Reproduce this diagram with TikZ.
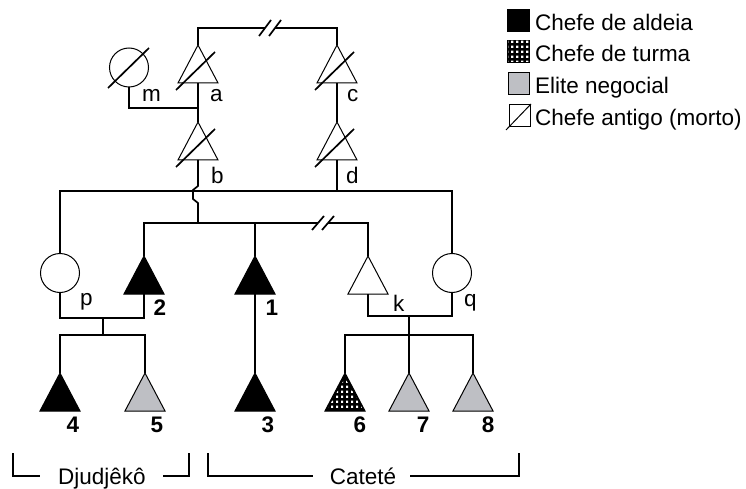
\documentclass[tikz,border=0pt]{standalone}
\usepackage{fontspec}
\setmainfont{Liberation Sans}
\usetikzlibrary{patterns.meta,calc}
\definecolor{elite}{RGB}{190,191,196}
\tikzdeclarepattern{
  name=chk,
  type=uncolored,
  bounding box={(0pt,0pt) and (5pt,5pt)},
  tile size={(5pt,5pt)},
  code={\fill (1.2pt,1.2pt) rectangle (3.8pt,3.8pt);}
}
\tikzset{
  conn/.style={line width=1.7pt},
  outl/.style={line width=1pt},
  brk/.style={line width=1.3pt},
  lbl/.style={inner sep=0pt, anchor=base west},
  num/.style={inner sep=0pt, anchor=base, font=\fontsize{22.5}{26}\selectfont\bfseries},
  tri/.pic={
    \filldraw[outl, fill=#1] (0,0) -- (20,38) -- (-20,38) -- cycle;
    \coordinate (-top) at (0,0); \coordinate (-bot) at (0,38);},
  chktri/.pic={
    \fill[black] (0,0) -- (20,38) -- (-20,38) -- cycle;
    \fill[pattern=chk, pattern color=white] (0,5) -- (17,35) -- (-17,35) -- cycle;
    \draw[outl] (0,0) -- (20,38) -- (-20,38) -- cycle;
    \coordinate (-top) at (0,0); \coordinate (-bot) at (0,38);},
  deadtri/.pic={
    \draw[outl] (0,0) -- (20,38) -- (-20,38) -- cycle;
    \draw[conn] (-22,45) -- (17,7);
    \coordinate (-top) at (0,0); \coordinate (-bot) at (0,38);},
  circ/.pic={
    \draw[outl] (0,19.5) circle (19.5pt);
    \coordinate (-top) at (0,0); \coordinate (-bot) at (0,39);},
  deadcirc/.pic={
    \draw[outl] (0,19.5) circle (19.5pt);
    \draw[conn] (-21,40) -- (20,0);
    \coordinate (-top) at (0,0); \coordinate (-bot) at (0,39);},
}
\begin{document}
\begin{tikzpicture}[x=1pt,y=-1pt,font=\fontsize{22.5}{26}\selectfont]
\useasboundingbox (0,0) rectangle (746,489);

% persons
\pic (m) at (129,48) {deadcirc};
\pic (a) at (198,45) {deadtri};
\pic (c) at (337,45) {deadtri};
\pic (b) at (198,122) {deadtri};
\pic (d) at (337,122) {deadtri};
\pic (p) at (60,253.5) {circ};
\pic (q) at (452,253.5) {circ};
\pic (t2) at (144,256) {tri=black};
\pic (t1) at (255,256) {tri=black};
\pic (k) at (368,256) {tri=white};
\pic (t4) at (60,373) {tri=black};
\pic (t5) at (145,373) {tri=elite};
\pic (t3) at (255,373) {tri=black};
\pic (t6) at (345,373) {chktri};
\pic (t7) at (409,373) {tri=elite};
\pic (t8) at (473,373) {tri=elite};

% helper coordinates
\coordinate (brk1) at (265,28);
\coordinate (brk2) at (275,28);
\coordinate (mj) at (198,108);
\coordinate (s1) at (60,191);
\coordinate (s2) at (452,191);
\coordinate (brk3) at (318,223);
\coordinate (brk4) at (328,223);
\coordinate (mp) at (103,318);
\coordinate (mk) at (409,316);

% a -- c (brothers, broken line)
\draw[conn] (a-top) |- (brk1);
\draw[conn] (brk2) -| (c-top);
\draw[conn] ($(brk1)+(-6,8)$) -- ++(12,-16);
\draw[conn] ($(brk2)+(-6,8)$) -- ++(12,-16);
% m -- a marriage, a -> b
\draw[conn] (m-bot) |- (mj);
\draw[conn] (a-bot) -- (b-top);
\draw[conn] (c-bot) -- (d-top);
% d children line
\draw[conn] (p-top) -- (s1) -- (s2) -- (q-top);
\draw[conn] (d-bot) -- (d-bot |- s1);
% b children line with hop
\draw[conn] (b-bot) -- ++(0,26) -- ++(-5,4) -- ++(0,9) -- ++(5,4) -- (b-bot |- brk3);
\draw[conn] (t2-top) |- (brk3);
\draw[conn] (brk4) -| (k-top);
\draw[conn] (t1-top) -- (t1-top |- brk3);
\draw[conn] ($(brk3)+(-6,7)$) -- ++(12,-14);
\draw[conn] ($(brk4)+(-6,7)$) -- ++(12,-14);
% p -- 2 marriage and children
\draw[conn] (p-bot) |- (mp) -| (t2-bot);
\draw[conn] (mp) -- ++(0,17);
\draw[conn] (t4-top) -- ++(0,-38) -| (t5-top);
% 1 -> 3
\draw[conn] (t1-bot) -- (t3-top);
% k -- q marriage and children
\draw[conn] (k-bot) |- (mk) -| (q-bot);
\draw[conn] (mk) -- (t7-top);
\draw[conn] (t6-top) -- ++(0,-38) -| (t8-top);

% labels
\node[lbl] (lm) at (142,102) {m};
\node[lbl] (la) at (210,102) {a};
\node[lbl] (lc) at (347,102) {c};
\node[lbl] (lb) at (211,183) {b};
\node[lbl] (ld) at (346,183) {d};
\node[lbl] (lp) at (80,305) {p};
\node[lbl] (lk) at (393,311) {k};
\node[lbl] (lq) at (464,306) {q};
\node[num] (n2) at (160,315) {2};
\node[num] (n1) at (272,315) {1};
\node[num] (n4) at (73,432) {4};
\node[num] (n5) at (157,432) {5};
\node[num] (n3) at (268,432) {3};
\node[num] (n6) at (360,432) {6};
\node[num] (n7) at (423,432) {7};
\node[num] (n8) at (488,432) {8};

% brackets
\node[inner sep=0pt, anchor=base] (dj) at (102,484) {Djudjêkô};
\node[inner sep=0pt, anchor=base] (ca) at (363,484) {Cateté};
\draw[brk] (13,453) |- (40,476);
\draw[brk] (163,476) -| (189,453);
\draw[brk] (208,453) |- (313,476);
\draw[brk] (410,476) -| (519,453);

% legend
\fill[black] (507,9) rectangle (530,32);
\node[lbl] (l1) at (535,31) {Chefe de aldeia};
\fill[black] (507,40) rectangle (530,63);
\fill[pattern=chk, pattern color=white] (508,41) rectangle (529,62);
\node[lbl] (l2) at (535,62) {Chefe de turma};
\filldraw[outl, fill=elite] (508,73) rectangle (529,95);
\node[lbl] (l3) at (535,94) {Elite negocial};
\draw[outl] (509,105) rectangle (530,127);
\draw[outl] (506,130) -- (531,104);
\node[lbl] (l4) at (535,126) {Chefe antigo (morto)};
\end{tikzpicture}
\end{document}
